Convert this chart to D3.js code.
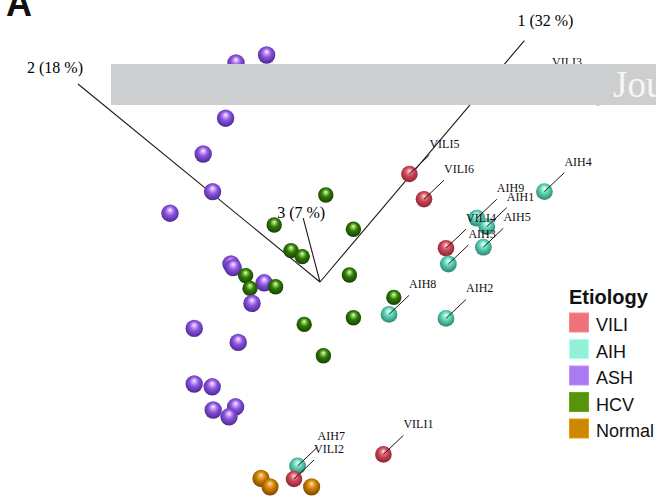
<!DOCTYPE html>
<html>
<head>
<meta charset="utf-8">
<script src="https://cdn.jsdelivr.net/npm/d3@7"></script>
<style>
  html, body { margin: 0; padding: 0; background: #fff; }
  svg { display: block; }
</style>
</head>
<body>
<svg id="chart" width="656" height="498"></svg>
<script>
// Etiology groups shown in the legend
const categories = ["VILI", "AIH", "ASH", "HCV", "Normal"];

// Projected PCA scores (screen-plane projection of PC1/PC2/PC3 space)
const ashX = [-0.267, -0.420, -0.472, -0.584, -0.537, -0.750, -0.445, -0.434, -0.279, -0.340, -0.629, -0.409, -0.629, -0.539, -0.534, -0.422, -0.455];
const ashY = [1.135, 1.095, 0.819, 0.640, 0.452, 0.344, 0.090, 0.072, -0.004, -0.107, -0.232, -0.302, -0.510, -0.524, -0.640, -0.624, -0.674];

const hcvX = [0.029, -0.229, 0.167, -0.145, -0.089, -0.372, 0.147, -0.350, -0.222, 0.369, -0.079, 0.167, 0.017];
const hcvY = [0.435, 0.285, 0.264, 0.157, 0.127, 0.032, 0.035, -0.032, -0.024, -0.077, -0.212, -0.179, -0.369];

// Sample labels ("" = no label drawn)
const aihLabels = ["AIH1", "AIH2", "AIH3", "AIH4", "AIH5", "", "AIH7", "AIH8", "AIH9"];
const aihX = [0.834, 0.630, 0.642, 1.122, 0.817, 1.390, -0.112, 0.345, 0.784];
const aihY = [0.277, -0.182, 0.090, 0.452, 0.174, 0.925, -0.920, -0.162, 0.319];

const viliLabels = ["VILI1", "VILI2", "VILI3", "VILI4", "VILI5", "VILI6"];
const viliX = [0.317, -0.130, 1.060, 0.630, 0.447, 0.520];
const viliY = [-0.862, -0.985, 0.950, 0.169, 0.540, 0.414];

const normalX = [-0.295, -0.250, -0.042];
const normalY = [-0.982, -1.024, -1.024];

// Principal-component axes: projected end points and their labels
const axisLabels = ["1 (32 %)", "2 (18 %)", "3 (7 %)"];
const axisEndX = [1.022, -1.210, -0.084];
const axisEndY = [1.207, 0.990, 0.319];

const svg = d3.select("#chart");

const x = d3.scaleLinear().domain([-1, 1]).range([120, 520]);
const y = d3.scaleLinear().domain([-1, 1]).range([482, 82]);

// Colours and sphere shading
const legendColor = { VILI: "#ef737a", AIH: "#92f0d6", ASH: "#a97af0", HCV: "#56930f", Normal: "#cc8800" };
const shade = {
  VILI:   { light: "#f2a4ab", base: "#cf4858", dark: "#7e1e2c" },
  AIH:    { light: "#c4f7e9", base: "#5ad2b2", dark: "#2a7868" },
  ASH:    { light: "#dcbcff", base: "#8e54de", dark: "#42228a" },
  HCV:    { light: "#a8e070", base: "#2f7a06", dark: "#143800" },
  Normal: { light: "#f6c060", base: "#cc7e00", dark: "#6e4000" }
};
const radius = { VILI: 8.3, AIH: 8.4, ASH: 8.7, HCV: 7.7, Normal: 8.6 };

const defs = svg.append("defs");
categories.forEach(c => {
  const g = defs.append("radialGradient")
    .attr("id", "sph-" + c)
    .attr("cx", "0.5").attr("cy", "0.45").attr("r", "0.6")
    .attr("fx", "0.5").attr("fy", "0.3");
  g.append("stop").attr("offset", "0").attr("stop-color", "#ffffff");
  g.append("stop").attr("offset", "0.12").attr("stop-color", shade[c].light);
  g.append("stop").attr("offset", "0.45").attr("stop-color", shade[c].base);
  g.append("stop").attr("offset", "1").attr("stop-color", shade[c].dark);
});

// Build the sample table
const samples = [];
ashX.forEach((v, i) => samples.push({ group: "ASH", x: v, y: ashY[i], label: "" }));
hcvX.forEach((v, i) => samples.push({ group: "HCV", x: v, y: hcvY[i], label: "" }));
aihX.forEach((v, i) => samples.push({ group: "AIH", x: v, y: aihY[i], label: aihLabels[i] }));
viliX.forEach((v, i) => samples.push({ group: "VILI", x: v, y: viliY[i], label: viliLabels[i] }));
normalX.forEach((v, i) => samples.push({ group: "Normal", x: v, y: normalY[i], label: "" }));

// Panel letter
svg.append("text")
  .attr("x", 6).attr("y", 16)
  .attr("font-family", "'Liberation Sans', Arial, sans-serif")
  .attr("font-weight", "bold")
  .attr("font-size", 36)
  .attr("fill", "#111")
  .text("A");

// Axes from the origin
const ox = x(0), oy = y(0);
const axes = svg.append("g");
axisLabels.forEach((lab, i) => {
  axes.append("line")
    .attr("x1", ox).attr("y1", oy)
    .attr("x2", x(axisEndX[i])).attr("y2", y(axisEndY[i]))
    .attr("stroke", "#1a1a1a").attr("stroke-width", 1.1);
});
const axisFont = "'Liberation Serif', 'Times New Roman', serif";
axes.append("text").attr("x", x(axisEndX[0]) - 7).attr("y", y(axisEndY[0]) - 15)
  .attr("font-family", axisFont).attr("font-size", 16).text(axisLabels[0]);
axes.append("text").attr("x", x(axisEndX[1]) - 51).attr("y", y(axisEndY[1]) - 11)
  .attr("font-family", axisFont).attr("font-size", 16).text(axisLabels[1]);
axes.append("text").attr("x", x(axisEndX[2]) - 26).attr("y", y(axisEndY[2]))
  .attr("font-family", axisFont).attr("font-size", 16).text(axisLabels[2]);

// Spheres, nearer (lower) ones drawn last
const ordered = samples.slice().sort((a, b) => b.y - a.y);
svg.append("g").selectAll("circle")
  .data(ordered)
  .join("circle")
  .attr("cx", d => x(d.x))
  .attr("cy", d => y(d.y))
  .attr("r", d => radius[d.group])
  .attr("fill", d => "url(#sph-" + d.group + ")");

// Sample labels with leader lines
const labelled = samples.filter(d => d.label);
const lab = svg.append("g");
lab.selectAll("line")
  .data(labelled)
  .join("line")
  .attr("x1", d => x(d.x)).attr("y1", d => y(d.y))
  .attr("x2", d => x(d.x) + 20).attr("y2", d => y(d.y) - 19)
  .attr("stroke", "#1a1a1a").attr("stroke-width", 1);
lab.selectAll("text")
  .data(labelled)
  .join("text")
  .attr("x", d => x(d.x) + 20)
  .attr("y", d => y(d.y) - 26)
  .attr("font-family", axisFont)
  .attr("font-size", 12)
  .attr("fill", "#111")
  .text(d => d.label);

// Journal banner across the top
svg.append("rect")
  .attr("x", 111).attr("y", 64).attr("width", 545).attr("height", 41)
  .attr("fill", "#cdcecf");
svg.append("text")
  .attr("x", 613).attr("y", 97)
  .attr("font-family", axisFont)
  .attr("font-size", 37)
  .attr("fill", "#f6f6f6")
  .text("Journal");

// Legend
const legend = svg.append("g").attr("transform", "translate(569,0)");
legend.append("text")
  .attr("x", 0).attr("y", 303.5)
  .attr("font-family", "'Liberation Sans', Arial, sans-serif")
  .attr("font-weight", "bold")
  .attr("font-size", 20)
  .attr("fill", "#111")
  .text("Etiology");
const item = legend.selectAll("g.item")
  .data(categories)
  .join("g")
  .attr("class", "item")
  .attr("transform", (d, i) => `translate(0,${312.5 + i * 26.5})`);
item.append("rect")
  .attr("x", 0.5).attr("y", 0.5).attr("width", 19).attr("height", 19)
  .attr("fill", d => legendColor[d])
  .attr("stroke", d => d3.color(legendColor[d]).brighter(0.4))
  .attr("stroke-width", 1);
item.append("text")
  .attr("x", 27).attr("y", 18.5)
  .attr("font-family", "'Liberation Sans', Arial, sans-serif")
  .attr("font-size", 18)
  .attr("fill", "#111")
  .text(d => d);
</script>
</body>
</html>
